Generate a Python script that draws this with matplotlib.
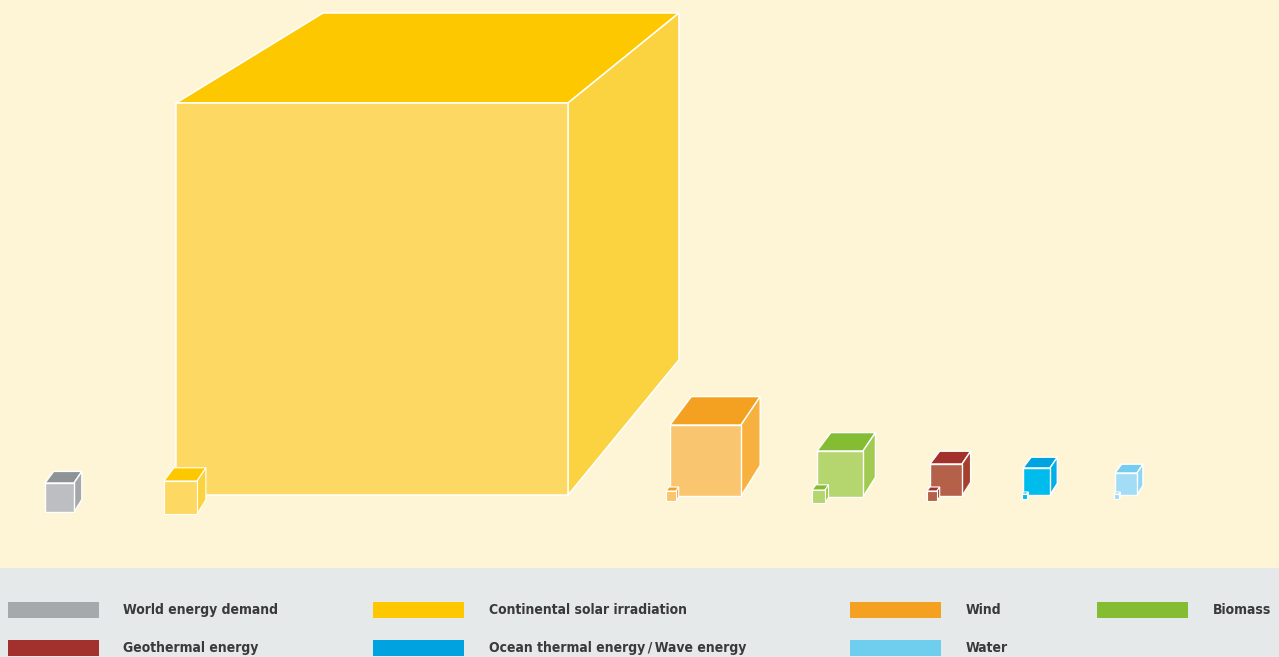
"""
Renewable energy potentials shown as cubes next to world energy demand.
"""
import matplotlib as mpl
import matplotlib.pyplot as plt
from matplotlib.patches import Polygon, Rectangle

mpl.rcParams.update({
    "font.family": ["DejaVu Sans"],
})

W, H = 1279, 657
BG = "#fdf5d5"
BAND = "#e5e9e9"
TEXT = "#3a3a3a"

# Cube edge lengths (arbitrary units, px-like).
categories = ["World energy demand", "Continental solar irradiation", "Wind",
              "Biomass", "Geothermal energy", "Ocean thermal energy/Wave energy",
              "Water"]
potential_edge = [29, 392, 71, 46, 32, 27, 22]
usable_edge = [None, 33, 10, 13, 10, 5, 5]

# face colours: front, top, side
front_colors = ["#bdbec1", "#fdd862", "#f9c56f", "#b5d56e", "#b5614a",
                "#00bcec", "#a3ddf5"]
top_colors = ["#8e9395", "#fdc800", "#f4a122", "#84bd34", "#a2302c",
              "#00a3e0", "#74cdef"]
side_colors = ["#a5a8ab", "#fbd23f", "#f8b13e", "#a1ca50", "#a53f2e",
               "#00aee8", "#8ed6f3"]
legend_colors = ["#a6a9ab", "#fdc800", "#f4a122", "#84bd34", "#a2302c",
                 "#00a3e0", "#6fcdee"]

# layout: front-face left edge and baseline of each big cube / small cube
big_x = [45, 176, 670, 817, 930, 1023, 1115]
big_base = [512, 495, 496, 497, 496, 495, 495]
small_x = [None, 164, 666, 812, 927, 1022, 1114]
small_base = [None, 514, 501, 503, 501, 499, 499]

# legend layout (row, column)
legend_order = [(0, 0), (0, 1), (0, 2), (0, 3), (1, 0), (1, 1), (1, 2)]
col_patch_x = [8, 373, 850, 1097]
col_text_x = [123, 489, 966, 1213]
row_y = [610, 648]


def draw_cube(ax, x, base, s, front, top, side, ox=0.3, oy=-0.4,
              kx=0.97, ky=0.97, lw=1.0, z=1):
    x0, x1 = x, x + s
    y0, y1 = base - s, base
    bx0 = x0 + ox * s
    by0 = y0 + oy * s
    bx1 = bx0 + kx * s
    by1 = by0 + ky * s
    ec = "white"
    ax.add_patch(Polygon([(x0, y0), (x1, y0), (bx1, by0), (bx0, by0)],
                         closed=True, fc=top, ec=ec, lw=lw, zorder=z,
                         joinstyle="miter"))
    ax.add_patch(Polygon([(x1, y0), (bx1, by0), (bx1, by1), (x1, y1)],
                         closed=True, fc=side, ec=ec, lw=lw, zorder=z,
                         joinstyle="miter"))
    ax.add_patch(Rectangle((x0, y0), s, s, fc=front, ec=ec, lw=lw,
                           zorder=z + 0.1, joinstyle="miter"))


fig = plt.figure(figsize=(W / 100, H / 100), dpi=100, facecolor=BG)
ax = fig.add_axes([0, 0, 1, 1])
ax.set_xlim(0, W)
ax.set_ylim(H, 0)
ax.axis("off")
ax.set_facecolor(BG)

for i, name in enumerate(categories):
    if i == 1:
        # the big solar cube: stronger perspective
        draw_cube(ax, big_x[i], big_base[i], potential_edge[i],
                  front_colors[i], top_colors[i], side_colors[i],
                  ox=0.375, oy=-0.2296, kx=0.908, ky=0.885, lw=1.1, z=1)
    else:
        draw_cube(ax, big_x[i], big_base[i], potential_edge[i],
                  front_colors[i], top_colors[i], side_colors[i], z=2)
    if usable_edge[i] is not None:
        draw_cube(ax, small_x[i], small_base[i], usable_edge[i],
                  front_colors[i], top_colors[i], side_colors[i],
                  lw=0.8, z=3)

# legend band
ax.add_patch(Rectangle((0, 568), W, H - 568, fc=BAND, ec="none", zorder=4))
for i, name in enumerate(categories):
    r, c = legend_order[i]
    y = row_y[r]
    ax.add_patch(Rectangle((col_patch_x[c], y - 8), 91, 16,
                           fc=legend_colors[i], ec="none", zorder=5))
    label = name.replace("/", "\u2009/\u2009")
    ax.text(col_text_x[c], y, label, fontsize=10, fontweight="bold",
            fontstretch="condensed", color=TEXT, va="center", ha="left",
            zorder=6)

fig.savefig("out.png", dpi=100, facecolor=BG)
